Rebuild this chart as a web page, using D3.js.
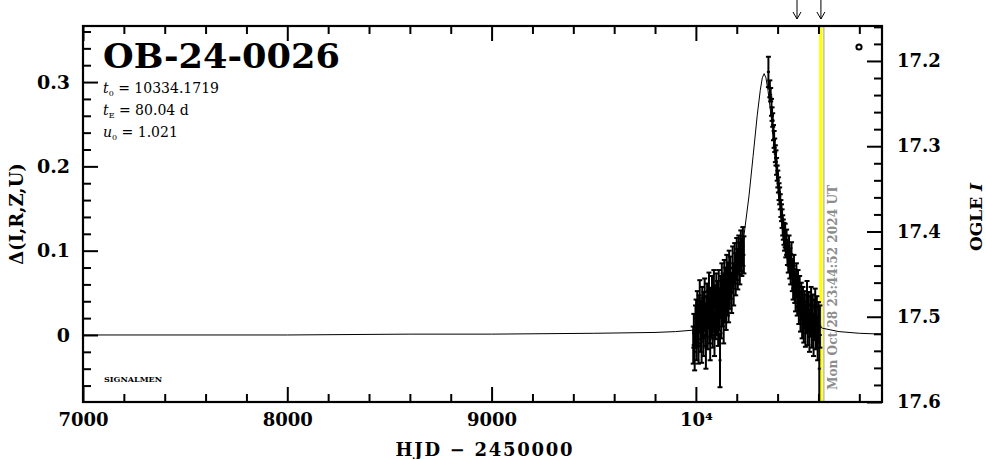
<!DOCTYPE html>
<html><head><meta charset="utf-8">
<script src="https://cdn.jsdelivr.net/npm/d3@7"></script>
<style>
html,body{margin:0;padding:0;background:#fff;}
svg{display:block;}
text{font-family:"DejaVu Serif",serif;}
</style></head>
<body>
<svg id="chart" width="986" height="459"></svg>
<script>
// ---------------- data ----------------
const title = "OB-24-0026";
const params = [["t","0"," = 10334.1719"],["t","E"," = 80.04 d"],["u","0"," = 1.021"]];
const xMajorTicks = [7000, 8000, 9000, 10000];
const xTickLabels = ["7000", "8000", "9000", "10\u2074"];
const yLeftMajor = [0, 0.1, 0.2, 0.3];
const yLeftLabels = ["0", "0.1", "0.2", "0.3"];
const yRightMajor = [17.2, 17.3, 17.4, 17.5, 17.6];
const yRightLabels = ["17.2", "17.3", "17.4", "17.5", "17.6"];
const arrowTimes = [10495, 10612];
const nowTime = 10612;
const nowLabel = "Mon Oct 28 23:44:52 2024 UT";

// model curve (HJD-2450000, delta flux)
const modelT = [7000, 8000, 8600, 9000, 9500, 9800, 9900, 10000, 10050, 10100, 10150, 10180, 10200, 10230, 10260, 10280, 10300, 10315, 10325, 10334, 10343, 10353, 10368, 10388, 10408, 10428, 10440, 10470, 10500, 10540, 10580, 10620, 10700, 10800, 10911];
const modelD = [0.000, 0.000, 0.001, 0.001, 0.002, 0.003, 0.004, 0.006, 0.009, 0.014, 0.030, 0.052, 0.070, 0.108, 0.165, 0.212, 0.260, 0.290, 0.305, 0.310, 0.305, 0.290, 0.260, 0.212, 0.165, 0.125, 0.105, 0.068, 0.042, 0.024, 0.013, 0.008, 0.004, 0.002, 0.001];

// observations: time, delta, error
const obsT = [9987,9990,9994,9998,10001,10004,10007,10010,10013,10016,10019,10022,10025,10028,10031,10034,10037,10040,10043,10046,10049,10052,10055,10058,10061,10064,10067,10070,10073,10076,10079,10082,10085,10088,10091,10094,10097,10100,10103,10106,10109,10112,10115,10118,10121,10124,10127,10130,10133,10136,10139,10142,10145,10148,10151,10154,10157,10160,10163,10166,10169,10175,10180,10185,10190,10195,10200,10205,10210,10215,10220,10225,10230,10235,
10355,10362,10366,10370,10373,10376,10380,10383,10386,10389,10392,10395,10398,10401,10404,10407,10410,10413,10416,10419,10422,10425,10428,10431,10434,10437,10440,10444,10448,10452,10456,10460,10464,10468,10472,10476,10480,10484,10488,10492,10496,10500,10504,10508,10512,10516,10520,10524,10528,10532,10536,10540,10544,10548,10552,10556,10560,10564,10568,10572,10576,10580,10584,10588,10592,10596,10600,10604,10607];
const obsD = [-0.012,0.005,-0.020,0.010,0.020,-0.005,0.030,0.012,-0.010,0.025,0.040,0.005,0.018,-0.008,0.035,0.020,0.000,0.028,0.045,0.012,-0.015,0.022,0.038,0.008,0.030,0.050,0.015,-0.005,0.032,0.020,0.045,0.010,0.028,0.055,0.000,0.035,0.018,0.048,0.025,0.040,0.012,0.055,0.030,-0.030,0.045,0.020,0.060,0.035,0.050,0.015,0.065,0.040,0.055,0.030,0.070,0.048,0.062,0.040,0.075,0.055,0.068,0.050,0.080,0.060,0.085,0.072,0.090,0.078,0.095,0.085,0.100,0.092,0.105,0.095,
0.312,0.292,0.285,0.270,0.262,0.255,0.240,0.232,0.225,0.215,0.210,0.200,0.192,0.185,0.178,0.170,0.165,0.158,0.150,0.145,0.138,0.130,0.125,0.120,0.112,0.118,0.105,0.110,0.098,0.090,0.100,0.085,0.078,0.090,0.070,0.062,0.075,0.058,0.050,0.065,0.045,0.055,0.035,0.048,0.028,0.040,0.020,0.035,0.015,0.030,0.010,0.025,0.040,0.012,0.028,0.005,0.022,0.035,0.010,0.025,0.000,0.018,0.032,0.008,0.022,-0.005,0.015,-0.040,0.010];
const obsE = [0.022,0.020,0.022,0.025,0.022,0.025,0.022,0.025,0.024,0.022,0.025,0.025,0.023,0.025,0.022,0.024,0.025,0.023,0.022,0.025,0.025,0.024,0.023,0.025,0.022,0.024,0.025,0.025,0.024,0.023,0.025,0.025,0.024,0.022,0.025,0.024,0.023,0.025,0.025,0.024,0.025,0.022,0.025,0.032,0.025,0.024,0.025,0.025,0.023,0.025,0.024,0.025,0.025,0.024,0.025,0.025,0.024,0.025,0.025,0.024,0.025,0.024,0.025,0.025,0.024,0.025,0.025,0.024,0.023,0.025,0.024,0.022,0.023,0.022,
0.018,0.010,0.008,0.010,0.008,0.008,0.009,0.010,0.008,0.010,0.009,0.010,0.009,0.010,0.009,0.010,0.010,0.009,0.010,0.010,0.011,0.012,0.012,0.013,0.012,0.014,0.013,0.015,0.015,0.016,0.018,0.018,0.018,0.020,0.018,0.020,0.020,0.020,0.022,0.020,0.022,0.022,0.022,0.022,0.024,0.022,0.024,0.022,0.024,0.022,0.024,0.023,0.024,0.024,0.023,0.025,0.024,0.022,0.025,0.023,0.025,0.024,0.023,0.025,0.024,0.025,0.024,0.040,0.025];

// ---------------- drawing ----------------
const svg = d3.select("#chart");
const L = 83, R = 882, T = 26, B = 402;
const x = d3.scaleLinear().domain([7000, 10911]).range([L, R]);
const yL = d3.scaleLinear().domain([-0.0795, 0.3665]).range([B, T]);
const yR = d3.scaleLinear().domain([17.159, 17.6]).range([T, B]);

const xMinor = d3.range(7200, 10901, 200).filter(v => !xMajorTicks.includes(v));
const yLMinor = d3.range(-6, 37, 2).map(v => v / 100).filter(v => !yLeftMajor.some(m => Math.abs(m - v) < 1e-9));
const yRMinor = d3.range(1716, 1760, 2).map(v => v / 100).filter(v => !yRightMajor.some(m => Math.abs(m - v) < 1e-9));

svg.append("defs").append("clipPath").attr("id", "clip")
  .append("rect").attr("x", L).attr("y", T).attr("width", R - L).attr("height", B - T);

// now line (yellow) and grey companion line
svg.append("line").attr("x1", x(nowTime)).attr("x2", x(nowTime)).attr("y1", T).attr("y2", B)
  .attr("stroke", "#ffff00").attr("stroke-width", 3.5);
svg.append("line").attr("x1", x(nowTime) + 3).attr("x2", x(nowTime) + 3).attr("y1", T).attr("y2", B)
  .attr("stroke", "#9a9a9a").attr("stroke-width", 1);

// date text
svg.append("text").attr("transform", `translate(${x(nowTime) + 16},390) rotate(-90)`)
  .attr("font-size", 12).attr("font-weight", "bold").attr("fill", "#8c8c8c")
  .attr("textLength", 205).attr("lengthAdjust", "spacingAndGlyphs")
  .text(nowLabel);

const plot = svg.append("g").attr("clip-path", "url(#clip)");

// model
const line = d3.line().x((d, i) => x(modelT[i])).y((d, i) => yL(modelD[i]));
plot.append("path").datum(modelT).attr("d", line).attr("fill", "none")
  .attr("stroke", "#000").attr("stroke-width", 1);

// data error bars
const obs = obsT.map((t, i) => ({t, d: obsD[i], e: obsE[i]}));
const g = plot.append("g").attr("stroke", "#000").attr("stroke-width", 2);
obs.forEach(o => {
  const cx = x(o.t), y1 = yL(o.d + o.e), y2 = yL(o.d - o.e), yc = yL(o.d);
  g.append("line").attr("x1", cx).attr("x2", cx).attr("y1", y1).attr("y2", y2);
  g.append("line").attr("x1", cx - 2.5).attr("x2", cx + 2.5).attr("y1", y1).attr("y2", y1);
  g.append("line").attr("x1", cx - 2.5).attr("x2", cx + 2.5).attr("y1", y2).attr("y2", y2);
  g.append("line").attr("x1", cx - 1.5).attr("x2", cx + 1.5).attr("y1", yc).attr("y2", yc);
});

// axes
function styleAxis(sel) {
  sel.select(".domain").remove();
  sel.selectAll(".tick line").attr("stroke", "#000").attr("stroke-width", 2);
  sel.selectAll("text").attr("font-family", "DejaVu Serif").attr("font-weight", "bold").attr("fill", "#000");
}
// bottom
const gB = svg.append("g").attr("transform", `translate(0,${B})`)
  .call(d3.axisBottom(x).tickValues(xMajorTicks).tickSize(-15).tickPadding(11)
    .tickFormat((d, i) => xTickLabels[i])).call(styleAxis);
gB.selectAll("text").attr("font-size", 18);
svg.append("g").attr("transform", `translate(0,${B})`)
  .call(d3.axisBottom(x).tickValues(xMinor).tickSize(-8).tickFormat("")).call(styleAxis);
// top
svg.append("g").attr("transform", `translate(0,${T})`)
  .call(d3.axisTop(x).tickValues(xMajorTicks).tickSize(-15).tickFormat("")).call(styleAxis);
svg.append("g").attr("transform", `translate(0,${T})`)
  .call(d3.axisTop(x).tickValues(xMinor).tickSize(-8).tickFormat("")).call(styleAxis);
// left
const gLft = svg.append("g").attr("transform", `translate(${L},0)`)
  .call(d3.axisLeft(yL).tickValues(yLeftMajor).tickSize(-15).tickPadding(13)
    .tickFormat((d, i) => yLeftLabels[i])).call(styleAxis);
gLft.selectAll("text").attr("font-size", 19);
svg.append("g").attr("transform", `translate(${L},0)`)
  .call(d3.axisLeft(yL).tickValues(yLMinor).tickSize(-8).tickFormat("")).call(styleAxis);
// right
const gRt = svg.append("g").attr("transform", `translate(${R},0)`)
  .call(d3.axisRight(yR).tickValues(yRightMajor).tickSize(-15).tickPadding(15)
    .tickFormat((d, i) => yRightLabels[i])).call(styleAxis);
gRt.selectAll("text").attr("font-size", 18);
svg.append("g").attr("transform", `translate(${R},0)`)
  .call(d3.axisRight(yR).tickValues(yRMinor).tickSize(-8).tickFormat("")).call(styleAxis);

// frame
svg.append("rect").attr("x", L).attr("y", T).attr("width", R - L).attr("height", B - T)
  .attr("fill", "none").attr("stroke", "#000").attr("stroke-width", 2.2);

// arrows on top
arrowTimes.forEach(t => {
  const ax = x(t);
  const ga = svg.append("g").attr("stroke", "#000").attr("stroke-width", 1).attr("fill", "none");
  ga.append("line").attr("x1", ax).attr("x2", ax).attr("y1", 0).attr("y2", 19);
  ga.append("path").attr("d", `M${ax - 4},12 L${ax},19 L${ax + 4},12`);
});

// small circle symbol
svg.append("circle").attr("cx", 859).attr("cy", 47).attr("r", 2.6)
  .attr("fill", "none").attr("stroke", "#000").attr("stroke-width", 2);

// title
svg.append("text").attr("x", 103).attr("y", 68).attr("font-size", 33).attr("font-weight", "bold")
  .attr("textLength", 237).attr("lengthAdjust", "spacingAndGlyphs").text(title);

// parameters
params.forEach((p, i) => {
  const t = svg.append("text").attr("x", 103).attr("y", 93 + i * 22).attr("font-size", 14);
  t.append("tspan").attr("font-style", "italic").text(p[0]);
  t.append("tspan").attr("font-size", 8).attr("dy", 3).text(p[1]);
  t.append("tspan").attr("dy", -3).text(p[2]);
});

// SIGNALMEN
svg.append("text").attr("x", 104).attr("y", 382).attr("font-size", 8).attr("font-weight", "bold")
  .attr("textLength", 58).attr("lengthAdjust", "spacingAndGlyphs").text("SIGNALMEN");

// axis titles
svg.append("text").attr("x", 484).attr("y", 456).attr("text-anchor", "middle")
  .attr("font-size", 18).attr("font-weight", "bold")
  .attr("textLength", 177).attr("lengthAdjust", "spacing").text("HJD \u2212 2450000");
svg.append("text").attr("transform", "translate(23,214) rotate(-90)").attr("text-anchor", "middle")
  .attr("font-size", 18).attr("font-weight", "bold").text("\u0394(I,R,Z,U)");
const ro = svg.append("text").attr("transform", "translate(982,217) rotate(-90)").attr("text-anchor", "middle")
  .attr("font-size", 17).attr("font-weight", "bold");
ro.append("tspan").text("OGLE ");
ro.append("tspan").attr("font-style", "italic").text("I");
</script>
</body></html>
